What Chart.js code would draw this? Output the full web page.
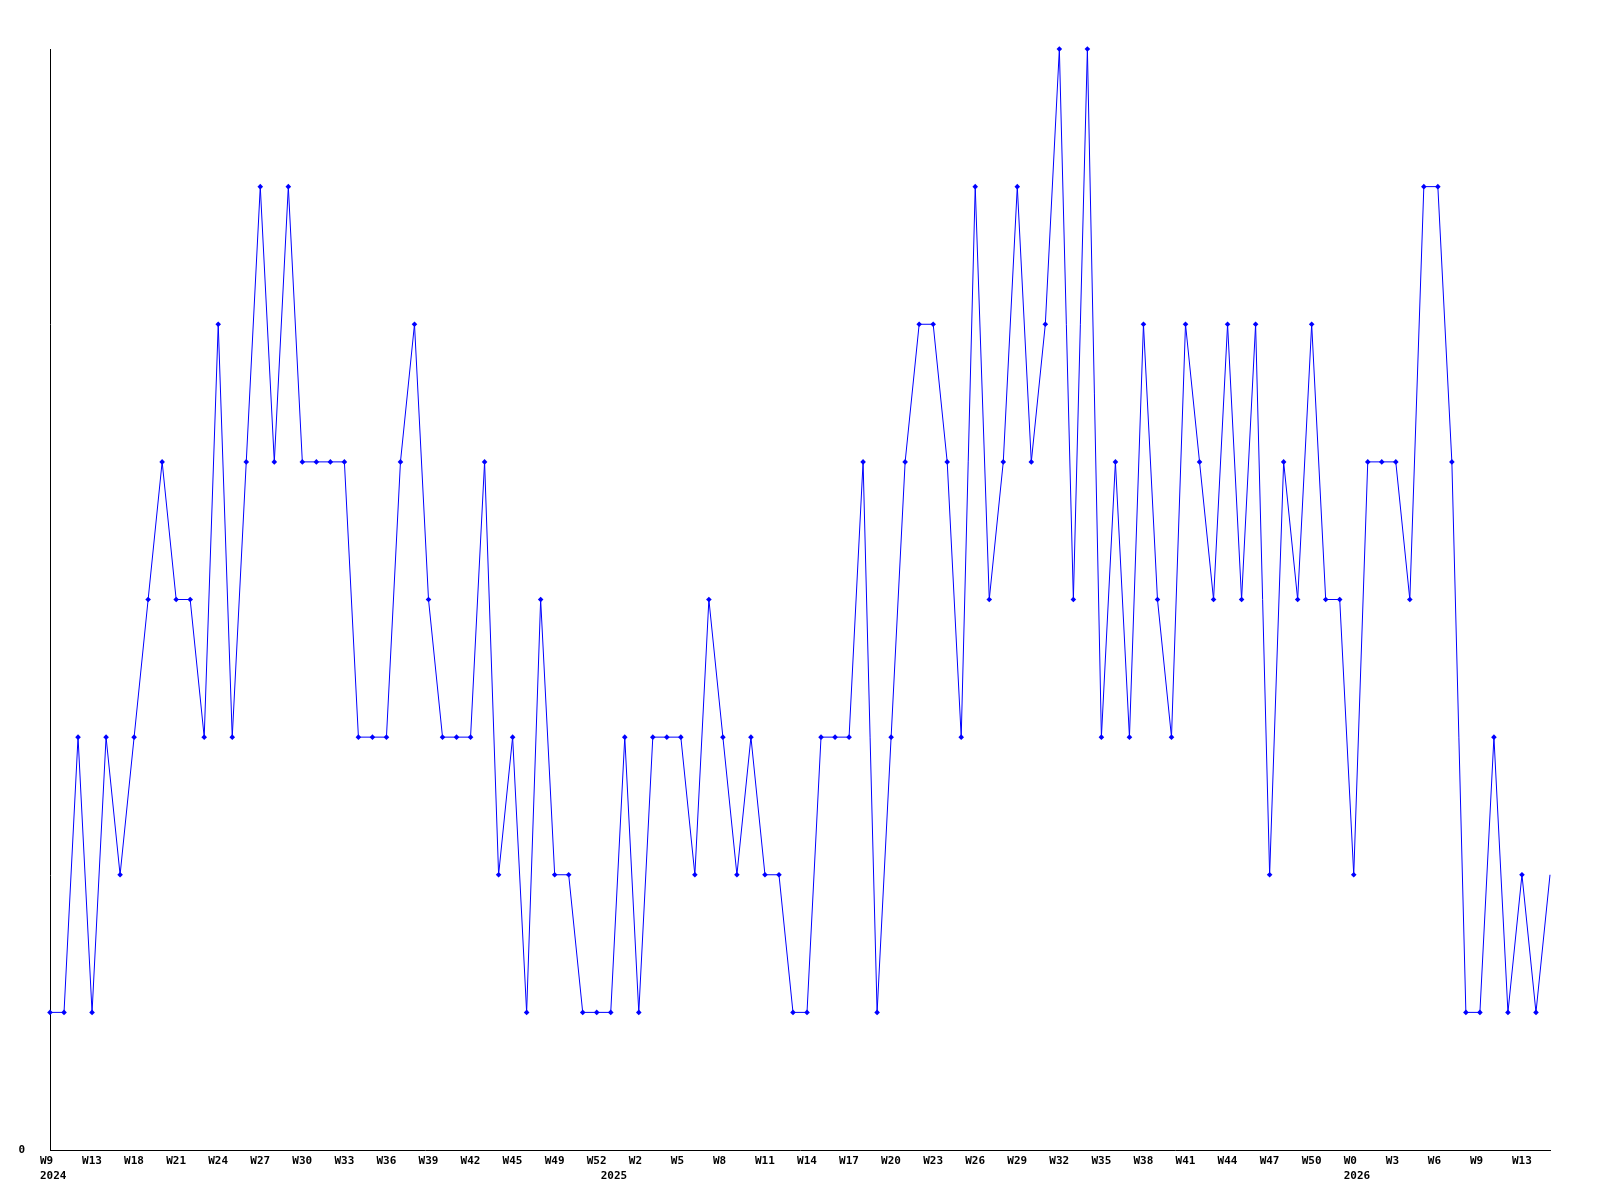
<!DOCTYPE html>
<html>
<head>
<meta charset="utf-8">
<script src="https://cdn.jsdelivr.net/npm/chart.js@4"></script>
<style>
  body { margin: 0; background: #fff; }
</style>
</head>
<body>
<canvas id="weekly-chart" width="1600" height="1200"></canvas>
<script>
// weekly counts, one point per week, W9 2024 onwards
var values = [
  1, 1, 3, 1, 3, 2, 3, 4, 5, 4, 4, 3, 6, 3, 5, 7, 5, 7, 5, 5,
  5, 5, 3, 3, 3, 5, 6, 4, 3, 3, 3, 5, 2, 3, 1, 4, 2, 2, 1, 1,
  1, 3, 1, 3, 3, 3, 2, 4, 3, 2, 3, 2, 2, 1, 1, 3, 3, 3, 5, 1,
  3, 5, 6, 6, 5, 3, 7, 4, 5, 7, 5, 6, 8, 4, 8, 3, 5, 3, 6, 4,
  3, 6, 5, 4, 6, 4, 6, 2, 5, 4, 6, 4, 4, 2, 5, 5, 5, 4, 7, 7,
  5, 1, 1, 3, 1, 2, 1, 2
];

// labels shown under every third week
var weekLabels = [
  'W9', 'W13', 'W18', 'W21', 'W24', 'W27', 'W30', 'W33', 'W36', 'W39',
  'W42', 'W45', 'W49', 'W52', 'W2', 'W5', 'W8', 'W11', 'W14', 'W17',
  'W20', 'W23', 'W26', 'W29', 'W32', 'W35', 'W38', 'W41', 'W44', 'W47',
  'W50', 'W0', 'W3', 'W6', 'W9', 'W13'
];
var labelStep = 3;

// year shown under the week where it starts
var yearStarts = { 0: '2024', 40: '2025', 93: '2026' };

var categories = values.map(function (v, i) {
  var w = (i % labelStep === 0) ? weekLabels[i / labelStep] : '';
  return yearStarts[i] ? [w, yearStarts[i]] : w;
});

var tickFont = {
  family: '"DejaVu Sans Mono", "Liberation Mono", monospace',
  size: 11,
  weight: 'bold',
  lineHeight: '15px'
};

var ctx = document.getElementById('weekly-chart').getContext('2d');
var weeklyChart = new Chart(ctx, {
  type: 'line',
  data: {
    labels: categories,
    datasets: [{
      data: values,
      borderColor: '#0000ff',
      backgroundColor: '#0000ff',
      borderWidth: 1,
      tension: 0,
      fill: false,
      clip: false,
      pointStyle: 'rectRot',
      pointRadius: function (c) { return c.dataIndex === values.length - 1 ? 0 : 2.8; },
      pointBorderWidth: 0,
      pointHoverRadius: 0
    }]
  },
  options: {
    responsive: false,
    animation: false,
    events: [],
    layout: {
      padding: { left: 0, right: 50, top: 49, bottom: 0 }
    },
    plugins: {
      legend: { display: false },
      tooltip: { enabled: false }
    },
    scales: {
      x: {
        grid: { display: false, drawTicks: false },
        border: { display: true, color: '#000', width: 1 },
        ticks: {
          autoSkip: false,
          maxRotation: 0,
          minRotation: 0,
          align: 'start',
          labelOffset: -10,
          padding: 4,
          color: '#000',
          font: tickFont
        },
        afterFit: function (scale) { scale.height = 50; }
      },
      y: {
        min: 0,
        max: 8,
        grid: { display: false, drawTicks: false },
        border: { display: true, color: '#000', width: 1 },
        ticks: {
          stepSize: 1,
          padding: 25,
          color: '#000',
          font: tickFont,
          callback: function (v) { return v === 0 ? '0' : ''; }
        },
        afterFit: function (scale) { scale.width = 50; }
      }
    }
  }
});
</script>
</body>
</html>
